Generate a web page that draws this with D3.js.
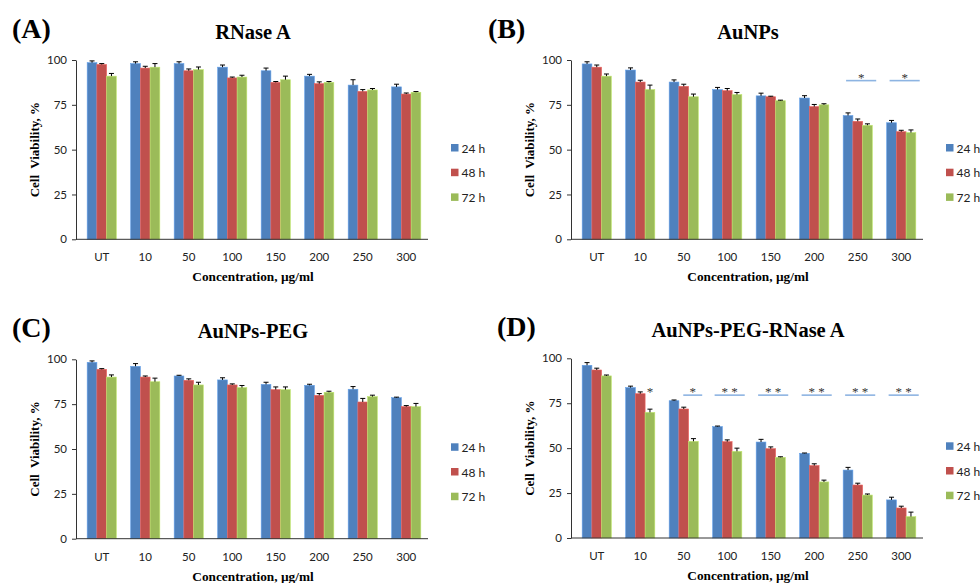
<!DOCTYPE html>
<html>
<head>
<meta charset="utf-8">
<script src="https://cdn.jsdelivr.net/npm/d3@7"></script>
<style>
  body { margin: 0; background: #fff; }
  .tick text { font-family: Lato, "Open Sans", sans-serif; }
</style>
</head>
<body>
<script>
const categories = ["UT", "10", "50", "100", "150", "200", "250", "300"];
const series = ["24 h", "48 h", "72 h"];
const yTicks = [0, 25, 50, 75, 100];

// values per series: 24 h, 48 h, 72 h
const rnaseMean = [
  [98.5, 98, 98, 96, 94, 91, 86, 85],
  [97.5, 95.5, 94, 90, 87.5, 86.8, 82.5, 81],
  [91, 96, 94.6, 90.5, 89, 87.5, 83.3, 82]
];
const rnaseErr = [
  [1, 1, 1, 1.2, 1.5, 1, 3, 1.5],
  [0.5, 1, 1, 0.5, 0.5, 1, 1, 0.6],
  [1.5, 2, 1.5, 1, 2, 0.5, 0.8, 0.4]
];
const aunpMean = [
  [97.8, 94.4, 87.7, 83.5, 80, 78.8, 69, 65],
  [96, 87.7, 85.3, 82.9, 79.5, 74, 65.8, 60],
  [91, 83.5, 79.5, 80.7, 77.3, 75, 63.6, 59.5]
];
const aunpErr = [
  [1.2, 1.2, 1.2, 1.2, 1.5, 1.3, 1.5, 1.3],
  [1.2, 1, 1.2, 1.2, 0.3, 1.2, 1.3, 0.8],
  [1.2, 2.5, 1.5, 1.2, 0.3, 0.6, 0.8, 1.5]
];
const pegMean = [
  [98.3, 96.1, 90.7, 88.5, 86, 85.5, 83.3, 78.6],
  [94.4, 90.1, 88.3, 85.7, 83.1, 79.9, 76.2, 73.6],
  [90.1, 87.5, 85.7, 84.2, 83.1, 81.6, 79.2, 73.6]
];
const pegErr = [
  [0.8, 1.5, 0.4, 1.2, 1.2, 0.6, 1.5, 0.3],
  [0.4, 0.6, 0.8, 0.6, 1.5, 1, 2, 0.6],
  [1.2, 2, 1.5, 1.2, 1.5, 0.6, 0.8, 1.8]
];
const conjMean = [
  [96.1, 83.7, 76.4, 62, 53.4, 47.1, 37.8, 21.2],
  [93.5, 80.3, 71.8, 53.6, 49.7, 40.3, 29.5, 16.7],
  [90.2, 69.9, 53.8, 48.2, 44.9, 31.2, 23.9, 11.9]
];
const conjErr = [
  [1.5, 0.8, 0.4, 0.3, 1.5, 0.2, 1.5, 1.5],
  [1, 1, 1, 1, 1, 1, 1, 1],
  [0.5, 1.8, 1.5, 1.8, 0.3, 1, 0.6, 2.5]
];

// significance marks: category, label, value of the bar line, span in bar units
const aunpSigCats = ["250", "300"];
const aunpSigLabels = ["*", "*"];
const aunpSigSpan = [[0.3, 3.4], [0.3, 3.4]];
const aunpSigLevel = 88.5;
const conjSigCats = ["10", "50", "100", "150", "200", "250", "300"];
const conjSigLabels = ["*", "*", "* *", "* *", "* *", "* *", "* *"];
const conjSigSpan = [[2.5, 2.5], [1.45, 3.4], [0.2, 3.3], [0.2, 3.3], [0.2, 3.3], [0.2, 3.3], [0.2, 3.3]];
const conjSigLevel = 79.5;

const colors = ["#4F81BD", "#C0504D", "#9BBB59"];
const sigColor = "#8DB4E2";
const serif = "'Liberation Serif', 'Times New Roman', serif";

const panels = [
  {letter: "(A)", title: "RNase A", mean: rnaseMean, err: rnaseErr,
   ax: 76, top: 60, bottom: 239.3, lx: 12, sig: null},
  {letter: "(B)", title: "AuNPs", mean: aunpMean, err: aunpErr,
   ax: 571, top: 60, bottom: 239.3, lx: 488,
   sig: {cats: aunpSigCats, labels: aunpSigLabels, span: aunpSigSpan, level: aunpSigLevel}},
  {letter: "(C)", title: "AuNPs-PEG", mean: pegMean, err: pegErr,
   ax: 76, top: 359.3, bottom: 538.7, lx: 12, sig: null},
  {letter: "(D)", title: "AuNPs-PEG-RNase A", mean: conjMean, err: conjErr,
   ax: 571, top: 358.3, bottom: 538, lx: 497,
   sig: {cats: conjSigCats, labels: conjSigLabels, span: conjSigSpan, level: conjSigLevel}}
];

const svg = d3.select("body")
              .append("svg")
              .attr("width", 980)
              .attr("height", 583);

panels.forEach(function(p) {
  const g = svg.append("g");
  const axisRight = p.ax + 352;

  const x = d3.scaleBand()
              .domain(categories)
              .range([p.ax + 4, axisRight])
              .paddingInner(0.33)
              .paddingOuter(0.165);
  const xs = d3.scaleBand()
               .domain(d3.range(series.length))
               .range([0, x.bandwidth()]);
  const y = d3.scaleLinear()
              .domain([0, 100])
              .range([p.bottom, p.top]);

  // bars
  const rows = [];
  p.mean.forEach(function(vals, s) {
    vals.forEach(function(v, i) {
      rows.push({cat: categories[i], s: s, v: v, e: p.err[s][i]});
    });
  });

  g.selectAll("rect.bar")
   .data(rows)
   .enter().append("rect")
   .attr("class", "bar")
   .attr("x", d => x(d.cat) + xs(d.s))
   .attr("width", xs.bandwidth())
   .attr("y", d => y(d.v))
   .attr("height", d => y(0) - y(d.v))
   .attr("fill", d => colors[d.s])
   .attr("stroke", d => d3.color(colors[d.s]).brighter(0.6))
   .attr("stroke-width", 0.6);

  // error bars (upper only)
  const eb = g.selectAll("g.err")
              .data(rows)
              .enter().append("g")
              .attr("class", "err")
              .attr("stroke", "#000")
              .attr("stroke-width", 1);
  eb.append("line")
    .attr("x1", d => x(d.cat) + xs(d.s) + xs.bandwidth() / 2)
    .attr("x2", d => x(d.cat) + xs(d.s) + xs.bandwidth() / 2)
    .attr("y1", d => y(d.v))
    .attr("y2", d => y(d.v + d.e));
  eb.append("line")
    .attr("x1", d => x(d.cat) + xs(d.s) + xs.bandwidth() / 2 - 2.5)
    .attr("x2", d => x(d.cat) + xs(d.s) + xs.bandwidth() / 2 + 2.5)
    .attr("y1", d => y(d.v + d.e))
    .attr("y2", d => y(d.v + d.e));

  // y axis
  const yAxis = g.append("g")
                 .attr("transform", `translate(${p.ax},0)`)
                 .call(d3.axisLeft(y).tickValues(yTicks).tickSize(4).tickPadding(5).tickSizeOuter(0));
  yAxis.select(".domain").attr("stroke", "#333");
  yAxis.selectAll(".tick line").attr("stroke", "#333");
  yAxis.selectAll(".tick text").attr("font-size", 11.5).attr("fill", "#222");

  // x axis
  g.append("line")
   .attr("x1", p.ax).attr("x2", axisRight)
   .attr("y1", y(0)).attr("y2", y(0))
   .attr("stroke", "#333");
  const xAxis = g.append("g")
                 .attr("transform", `translate(0,${y(0)})`)
                 .call(d3.axisBottom(x).tickSize(0).tickPadding(14));
  xAxis.select(".domain").remove();
  xAxis.selectAll(".tick text").attr("font-size", 11.5).attr("fill", "#222");

  // significance
  if (p.sig) {
    p.sig.cats.forEach(function(c, i) {
      const a = x(c) + p.sig.span[i][0] * xs.bandwidth();
      const b = x(c) + p.sig.span[i][1] * xs.bandwidth();
      if (b > a) {
        g.append("line")
         .attr("x1", a).attr("x2", b)
         .attr("y1", y(p.sig.level)).attr("y2", y(p.sig.level))
         .attr("stroke", sigColor)
         .attr("stroke-width", 1.6);
      }
      g.append("text")
       .attr("x", (a + b) / 2)
       .attr("y", y(p.sig.level) + 1)
       .attr("text-anchor", "middle")
       .attr("font-family", serif)
       .attr("font-size", 13)
       .attr("fill", "#333")
       .text(p.sig.labels[i]);
    });
  }

  // legend
  const lg = g.selectAll("g.legend")
              .data(series)
              .enter().append("g")
              .attr("class", "legend")
              .attr("transform", (d, i) => `translate(${p.ax + 375},${p.top + 88 + i * 24.7})`);
  lg.append("rect")
    .attr("x", 0).attr("y", -4)
    .attr("width", 7.5).attr("height", 7.5)
    .attr("fill", (d, i) => colors[i]);
  lg.append("text")
    .attr("x", 10.5).attr("y", 4.5)
    .attr("font-family", "Lato, 'Open Sans', sans-serif")
    .attr("font-size", 12)
    .attr("fill", "#222")
    .text(d => d);

  // titles
  g.append("text")
   .attr("x", (p.ax + axisRight) / 2 + 1)
   .attr("y", p.top - 21.5)
   .attr("text-anchor", "middle")
   .attr("font-family", serif)
   .attr("font-weight", "bold")
   .attr("font-size", 20.5)
   .text(p.title);
  g.append("text")
   .attr("x", p.lx)
   .attr("y", p.top - 22)
   .attr("font-family", serif)
   .attr("font-weight", "bold")
   .attr("font-size", 28)
   .text(p.letter);

  g.append("text")
   .attr("x", (p.ax + axisRight) / 2 + 1)
   .attr("y", p.bottom + 42)
   .attr("text-anchor", "middle")
   .attr("font-family", serif)
   .attr("font-weight", "bold")
   .attr("font-size", 13.3)
   .text("Concentration, µg/ml");
  g.append("text")
   .attr("transform", `translate(${p.ax - 37},${(p.top + p.bottom) / 2}) rotate(-90)`)
   .attr("text-anchor", "middle")
   .attr("font-family", serif)
   .attr("font-weight", "bold")
   .attr("font-size", 13)
   .style("white-space", "pre")
   .text("Cell  Viability, %");
});
</script>
</body>
</html>
